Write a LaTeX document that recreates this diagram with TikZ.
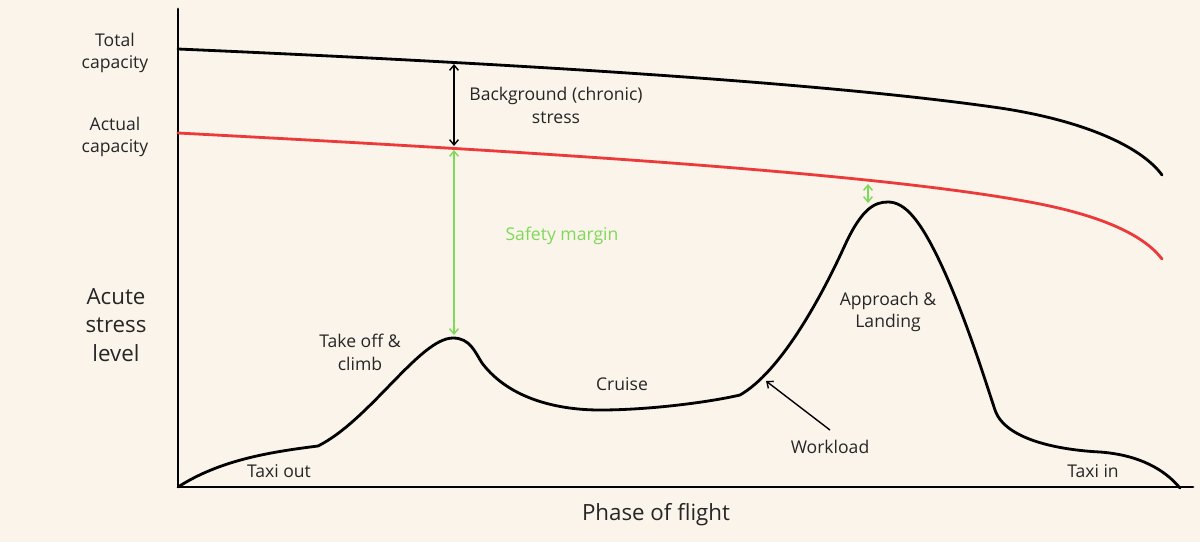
\documentclass[tikz,border=0pt]{standalone}
\usepackage{fontspec}
\setmainfont{Open Sans}
\usetikzlibrary{arrows.meta}
\definecolor{paper}{RGB}{250,244,235}
\definecolor{capred}{RGB}{236,58,58}
\definecolor{margingreen}{RGB}{126,217,87}
\begin{document}
\begin{tikzpicture}[x=0.02cm,y=-0.02cm,
	curve/.style={line width=1.6pt,line join=round,line cap=round},
	gap/.style={line width=0.8pt,{Straight Barb[length=3pt,width=5pt]}-{Straight Barb[length=3pt,width=5pt]}},
	label/.style={font=\fontsize{10}{13}\selectfont,align=center,text=black!85},
	biglabel/.style={font=\fontsize{12.7}{16}\selectfont,align=center,text=black!85}]
	\fill [paper] (0,0) rectangle (1200,542);
	\useasboundingbox (0,0) rectangle (1200,542);
	\coordinate (origin) at (178,487);
	\coordinate (ytop) at (178,9);
	\coordinate (xend) at (1193,487);
	\draw [curve] (ytop) -- (origin) -- (xend);
	\draw [curve] (178,49) .. controls (500,63) and (820,82) .. (1000,108)
		.. controls (1080,120) and (1140,145) .. (1162,175);
	\draw [curve,capred] (178,133) .. controls (500,150) and (880,172) .. (1040,204)
		.. controls (1110,218) and (1146,238) .. (1162,259);
	\draw [curve] (178,487) .. controls (220,460) and (270,452) .. (318,446)
		.. controls (370,420) and (420,338) .. (453,338)
		.. controls (470,338) and (475,352) .. (482,363)
		.. controls (510,400) and (560,410) .. (600,410)
		.. controls (650,410) and (710,402) .. (740,395)
		.. controls (780,372) and (820,300) .. (845,245)
		.. controls (862,208) and (875,202) .. (888,202)
		.. controls (905,202) and (920,220) .. (940,262)
		.. controls (965,315) and (985,380) .. (995,410)
		.. controls (1005,440) and (1060,450) .. (1100,452)
		.. controls (1140,455) and (1165,470) .. (1180,488);
	\coordinate (totaltop) at (454,64);
	\coordinate (actualtop) at (454,146);
	\coordinate (actualbot) at (454,150);
	\coordinate (climbpeak) at (454,335);
	\coordinate (approachtop) at (868,184);
	\coordinate (approachpeak) at (868,203);
	\coordinate (workloadtip) at (766,381);
	\draw [gap] (totaltop) -- (actualtop);
	\draw [gap,margingreen] (actualbot) -- (climbpeak);
	\draw [gap,margingreen] (approachtop) -- (approachpeak);
	\node [label] (total) at (115,53) {Total\\capacity};
	\node [label] (actual) at (115,137) {Actual\\capacity};
	\node [biglabel] (acute) at (116,325) {Acute\\stress\\level};
	\node [label] (background) at (556,105) {Background (chronic)\\stress};
	\node [label,text=margingreen] (safety) at (562,236) {Safety margin};
	\node [label] (takeoff) at (360,352) {Take off \&\\climb};
	\node [label] (cruise) at (622,384) {Cruise};
	\node [label] (approach) at (888,312) {Approach \&\\Landing};
	\node [label] (workload) at (830,447) {Workload};
	\node [label] (taxiout) at (279,471) {Taxi out};
	\node [label] (taxiin) at (1093,471) {Taxi in};
	\node [biglabel] (phase) at (656,515) {Phase of flight};
	\draw [line width=0.8pt,-{Straight Barb[length=3pt,width=5pt]}] (workload.north) ++(0,-4) -- (workloadtip);
\end{tikzpicture}
\end{document}
